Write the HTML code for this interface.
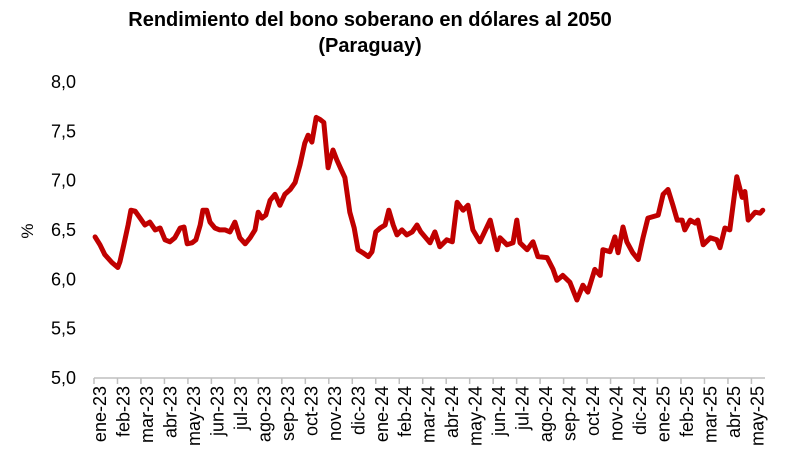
<!DOCTYPE html>
<html><head><meta charset="utf-8"><style>
body{margin:0;background:#fff;}
svg{display:block;font-family:"Liberation Sans",Arial,sans-serif;}
</style></head><body>
<svg id="chart" width="787" height="474" viewBox="0 0 787 474">
<text x="370" y="26" text-anchor="middle" font-size="20" font-weight="bold" fill="#000">Rendimiento del bono soberano en dólares al 2050</text>
<text x="370" y="52" text-anchor="middle" font-size="20" font-weight="bold" fill="#000">(Paraguay)</text>
<text transform="translate(33,231) rotate(-90)" text-anchor="middle" font-size="17" fill="#000">%</text>
<g id="yticks"></g>
<g id="xaxis"></g>
<path id="line" fill="none" stroke="#c00000" stroke-width="5" stroke-linejoin="round" stroke-linecap="round"></path>
</svg>
<script>
const yTicks=[5.0,5.5,6.0,6.5,7.0,7.5,8.0];
const months=["ene-23","feb-23","mar-23","abr-23","may-23","jun-23","jul-23","ago-23","sep-23","oct-23","nov-23","dic-23","ene-24","feb-24","mar-24","abr-24","may-24","jun-24","jul-24","ago-24","sep-24","oct-24","nov-24","dic-24","ene-25","feb-25","mar-25","abr-25","may-25"];
const weeks=[0.2,1.1,2.0,3.3,4.4,4.8,5.5,6.3,6.8,7.6,8.5,9.4,10.3,11.3,12.2,13.1,14.0,14.9,15.9,16.6,17.2,18.1,18.8,19.6,20.1,20.8,21.4,22.3,23.2,24.2,25.1,26.0,26.9,27.9,28.8,29.7,30.3,31.0,31.7,32.5,33.4,34.3,35.2,36.2,37.1,38.0,38.9,39.5,40.2,41.0,41.7,42.4,43.2,44.1,44.8,45.6,46.3,47.2,48.0,48.7,49.6,50.6,51.3,52.0,52.8,53.7,54.4,55.2,55.9,56.8,57.7,58.7,59.6,60.3,62.0,62.9,63.8,65.1,66.1,67.0,68.1,69.0,69.9,71.2,73.1,74.4,74.9,76.2,77.3,78.0,78.6,79.9,81.0,81.9,83.6,84.7,85.4,86.5,87.8,89.1,90.2,91.1,92.4,93.4,93.9,95.2,96.1,96.7,97.6,98.3,99.4,100.4,101.3,102.2,104.1,105.0,105.9,106.8,107.6,108.5,109.0,110.0,110.9,111.4,112.4,113.7,114.9,115.5,116.4,117.3,118.6,119.6,120.1,120.7,122.0,122.9,123.4];
const values=[6.43,6.35,6.25,6.17,6.12,6.18,6.35,6.55,6.70,6.69,6.62,6.55,6.58,6.50,6.52,6.40,6.38,6.42,6.52,6.53,6.36,6.37,6.40,6.55,6.70,6.70,6.58,6.52,6.50,6.50,6.48,6.58,6.42,6.36,6.42,6.50,6.68,6.62,6.65,6.80,6.86,6.75,6.86,6.91,6.98,7.16,7.38,7.46,7.39,7.64,7.62,7.59,7.13,7.31,7.21,7.11,7.03,6.68,6.52,6.30,6.27,6.23,6.28,6.48,6.52,6.55,6.70,6.55,6.45,6.50,6.45,6.48,6.55,6.48,6.37,6.48,6.33,6.40,6.38,6.78,6.70,6.75,6.50,6.38,6.60,6.30,6.42,6.35,6.37,6.60,6.37,6.30,6.38,6.23,6.22,6.10,5.99,6.04,5.97,5.79,5.94,5.87,6.10,6.04,6.30,6.28,6.43,6.27,6.53,6.38,6.27,6.20,6.42,6.62,6.65,6.86,6.91,6.75,6.60,6.60,6.50,6.60,6.57,6.60,6.35,6.42,6.40,6.32,6.52,6.50,7.04,6.83,6.89,6.60,6.68,6.67,6.70];
const NS="http://www.w3.org/2000/svg";
const x0=94,wpx=5.42,mpx=23.48;
const xW=w=>x0+w*wpx;
const y=v=>378-(v-5)*98.7;
const yg=document.getElementById('yticks');
yTicks.forEach(v=>{
  const t=document.createElementNS(NS,'text');
  
  
  t.setAttribute('x',76);t.setAttribute('y',y(v)+6);
  t.setAttribute('text-anchor','end');t.setAttribute('font-size','18');
  t.textContent=v.toFixed(1).replace('.',',');
  yg.appendChild(t);
});
const xg=document.getElementById('xaxis');
const ax=document.createElementNS(NS,'line');


ax.setAttribute('x1',x0);ax.setAttribute('x2',765);ax.setAttribute('y1',378);ax.setAttribute('y2',378);
ax.setAttribute('stroke','#bfbfbf');ax.setAttribute('stroke-width','1.5');
xg.appendChild(ax);
months.forEach((m,i)=>{
  const xt=x0+i*mpx;
  const tk=document.createElementNS(NS,'line');
  
  
  tk.setAttribute('x1',xt);tk.setAttribute('x2',xt);tk.setAttribute('y1',378);tk.setAttribute('y2',384);
  tk.setAttribute('stroke','#bfbfbf');tk.setAttribute('stroke-width','1.5');
  xg.appendChild(tk);
  const t=document.createElementNS(NS,'text');
  
  
  t.setAttribute('transform','translate('+(xt+12)+',386) rotate(-90)');
  t.setAttribute('text-anchor','end');t.setAttribute('font-size','18');
  t.textContent=m;
  xg.appendChild(t);
});
let d='';
weeks.forEach((w,i)=>{d+=(i?'L':'M')+xW(w).toFixed(1)+','+y(values[i]).toFixed(1);});
document.getElementById('line').setAttribute('d',d);
</script>
</body></html>
